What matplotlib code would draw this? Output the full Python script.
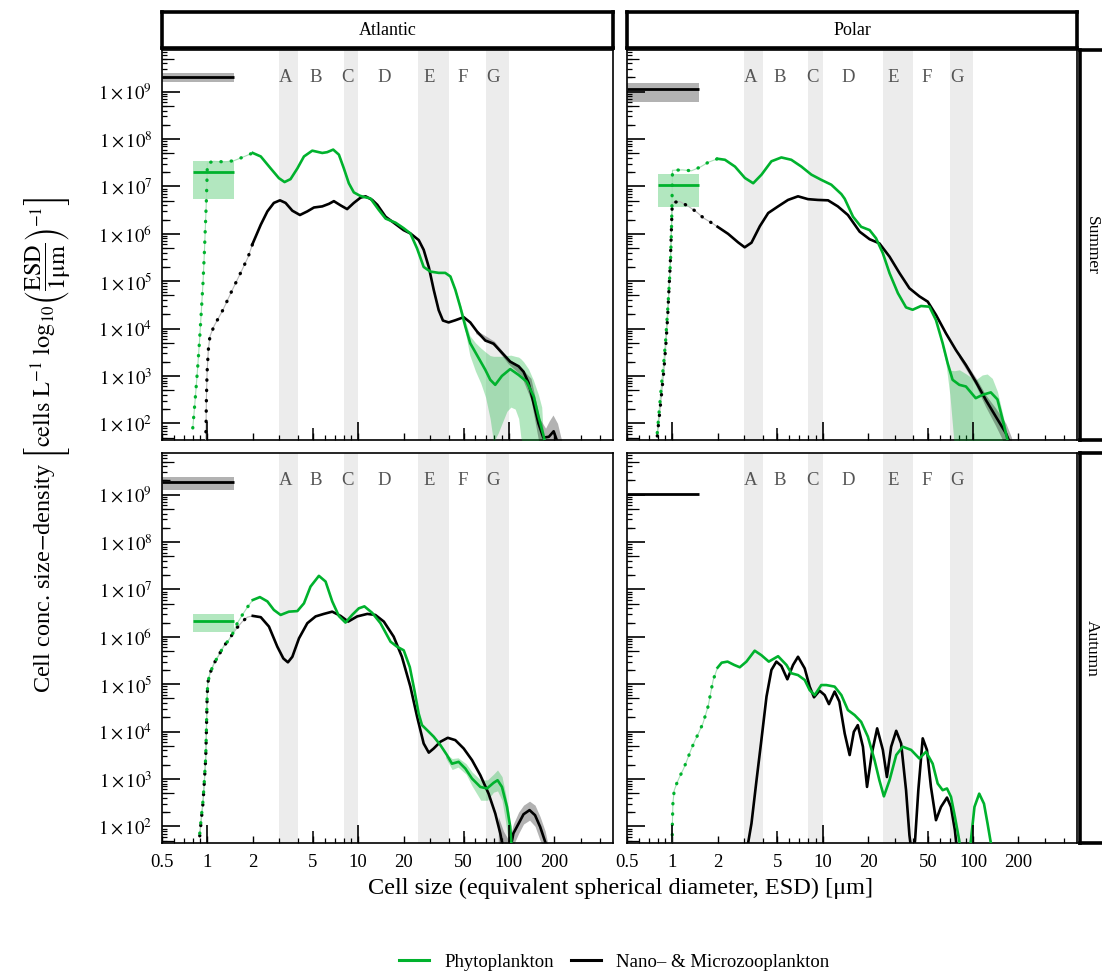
import matplotlib
matplotlib.use("Agg")
import matplotlib.pyplot as plt
import numpy as np
from matplotlib.lines import Line2D
from matplotlib.ticker import FixedLocator, FuncFormatter, LogLocator, NullFormatter

plt.rcParams["font.family"] = ["Liberation Serif", "DejaVu Serif"]
plt.rcParams["mathtext.fontset"] = "stix"

GREEN = "#00b22d"
SHADE = "#ececec"
LETTER_GREY = "#555555"

W, H = 1102, 971

# size classes shaded in every panel
class_bands = [(3, 4), (8, 10), (25, 40), (70, 100)]
class_letters = ["A", "B", "C", "D", "E", "F", "G"]
class_letter_x = [3.3, 5.2, 8.5, 14.8, 29.5, 49, 78]

# picoplankton bulk values drawn as short horizontal bars (value, low, high)
pico_zoo_x = [0.5, 1.5]
pico_phyto_x = [0.8, 1.5]
atl_sum_pico_zoo = [2.07e9, 1.63e9, 2.45e9]
atl_sum_pico_phyto = [2.05e7, 5.4e6, 3.5e7]
pol_sum_pico_zoo = [1.12e9, 6.0e8, 1.55e9]
pol_sum_pico_phyto = [1.09e7, 3.6e6, 1.83e7]
atl_aut_pico_zoo = [1.85e9, 1.28e9, 2.37e9]
atl_aut_pico_phyto = [2.17e6, 1.29e6, 3.05e6]
pol_aut_pico_zoo = [1.03e9, 1.03e9, 1.03e9]

# ---- Atlantic, summer ----
atl_sum_phyto_x = [0.80, 0.83, 0.86, 0.885, 0.91, 0.935, 0.955, 0.97, 0.985, 0.995, 1.0, 1.1, 1.3, 1.5, 1.7,
                   2.0, 2.26, 2.63, 2.98, 3.25, 3.56, 3.95, 4.37, 4.96, 5.78, 6.23, 6.83, 7.45, 8.04, 8.67,
                   9.36, 10.25, 10.9, 12.06, 13.7, 15.2, 17.7, 20.0, 22.2, 24.6, 27.2, 30.1, 34.2, 37.8,
                   40.9, 44.1, 47.5, 51.4, 55.4, 61.4, 69.7, 75.2, 81.1, 89.8, 102, 116, 131, 146, 157,
                   169, 180]
atl_sum_phyto_y = [80, 320, 1.35e3, 5.0e3, 2.1e4, 9.1e4, 4.0e5, 1.45e6, 5.2e6, 1.6e7, 3.1e7, 3.4e7, 3.3e7,
                   3.5e7, 4.1e7,
                   5.1e7, 4.3e7, 2.4e7, 1.5e7, 1.24e7, 1.43e7, 2.4e7, 4.3e7, 5.7e7, 5.1e7, 5.3e7, 6.0e7,
                   4.7e7, 2.4e7, 1.17e7, 7.5e6, 6.4e6, 6.0e6, 5.6e6, 3.2e6, 2.1e6, 1.72e6, 1.32e6, 1.02e6,
                   4.9e5, 2.0e5, 1.6e5, 1.5e5, 1.5e5, 1.26e5, 6.6e4, 2.9e4, 1.1e4, 4.9e3, 2.75e3, 1.35e3,
                   830, 650, 1.0e3, 1.4e3, 1.05e3, 760, 370, 140, 58, 25]
atl_sum_zoo_x = [0.975, 0.98, 0.985, 0.995, 1.015, 1.04, 1.11, 1.27, 1.44, 1.64, 1.86,
                 2.0, 2.26, 2.50, 2.76, 3.03, 3.30, 3.66, 4.11, 4.60, 5.09, 5.78, 6.40, 6.90, 7.64, 8.45,
                 9.36, 10.36, 11.2, 12.4, 13.4, 15.2, 17.2, 20.0, 22.2, 25.2, 27.2, 29.4, 31.7, 34.2, 36.5,
                 39.8, 44.1, 50.1, 55.4, 61.4, 69.7, 79.1, 89.8, 102, 116, 125, 135, 146, 157, 169, 184,
                 198, 213]
atl_sum_zoo_y = [40, 93, 320, 1.15e3, 3.6e3, 6.9e3, 1.15e4, 2.5e4, 5.9e4, 1.38e5, 3.2e5,
                 6.3e5, 1.56e6, 2.98e6, 4.5e6, 5.1e6, 4.5e6, 3.08e6, 2.5e6, 2.98e6, 3.6e6, 3.8e6, 4.3e6,
                 4.9e6, 4.0e6, 3.33e6, 4.5e6, 5.8e6, 6.2e6, 5.2e6, 4.1e6, 2.3e6, 1.72e6, 1.2e6, 1.02e6,
                 7.4e5, 4.6e5, 2.0e5, 6.6e4, 2.45e4, 1.48e4, 1.35e4, 1.5e4, 1.74e4, 1.35e4, 8.7e3, 5.6e3,
                 4.8e3, 3.1e3, 2.0e3, 1.6e3, 1.23e3, 710, 260, 100, 50, 52, 68, 35]
atl_sum_phyto_band_x = [44, 50, 55, 60, 65, 70, 75, 79, 85, 90, 97, 103, 110, 116, 120, 125, 135, 145, 157,
                        165, 170]
atl_sum_phyto_band_lo = [6.0e4, 1.32e4, 2.75e3, 1.26e3, 710, 355, 126, 40, 63, 100, 180, 220, 200, 126,
                         50, 32, 32, 32, 32, 32, 32]
atl_sum_phyto_band_hi = [7.2e4, 2.0e4, 7.1e3, 5.0e3, 3.9e3, 3.2e3, 2.7e3, 2.6e3, 2.6e3, 2.6e3, 2.7e3,
                         2.75e3, 2.6e3, 2.5e3, 2.3e3, 2.0e3, 1.4e3, 830, 400, 220, 40]
atl_sum_zoo_band_x = [60, 80, 100, 120, 140, 160, 175, 185, 196, 210, 225]
atl_sum_zoo_band_lo = [7.9e3, 4.3e3, 1.74e3, 1.05e3, 316, 32, 32, 32, 32, 32, 32]
atl_sum_zoo_band_hi = [9.5e3, 5.4e3, 2.3e3, 1.5e3, 890, 126, 79, 112, 150, 100, 40]

# ---- Polar, summer ----
pol_sum_phyto_x = [0.795, 0.82, 0.85, 0.877, 0.904, 0.932, 0.956, 0.976, 0.99, 0.997, 1.003, 1.015, 1.17,
                   1.34, 1.535, 1.735,
                   2.0, 2.24, 2.61, 3.04, 3.45, 3.92, 4.56, 5.31, 6.18, 7.21, 8.40, 9.78, 11.4, 13.3, 14.0,
                   15.9, 18.0, 20.5, 22.6, 25.1, 27.8, 31.6, 35.8, 39.6, 45.0, 51.2, 56.6, 62.7, 67.7, 73.0,
                   80.9, 89.5, 104, 115.5, 131, 145, 157, 169, 180]
pol_sum_phyto_y = [63, 195, 710, 1.86e3, 5.9e3, 2.5e4, 9.1e4, 3.3e5, 1.7e6, 6.2e6, 2.2e7, 2.2e7, 2.24e7,
                   2.14e7, 2.57e7, 3.24e7,
                   3.85e7, 3.66e7, 2.63e7, 1.51e7, 1.17e7, 1.78e7, 3.4e7, 4.1e7, 3.66e7, 2.63e7, 1.78e7,
                   1.38e7, 1.09e7, 6.9e6, 5.5e6, 2.3e6, 1.41e6, 1.2e6, 8.1e5, 3.9e5, 1.48e5, 5.6e4, 2.8e4,
                   2.5e4, 3.0e4, 2.9e4, 1.51e4, 4.9e3, 1.86e3, 830, 650, 600, 340, 400, 450, 320, 120, 45, 20]
pol_sum_zoo_x = [0.795, 0.82, 0.85, 0.88, 0.908, 0.932, 0.95, 0.97, 0.985, 1.0, 1.125, 1.28, 1.44, 1.62,
                 1.83,
                 2.0, 2.35, 2.74, 3.03, 3.36, 3.82, 4.34, 5.05, 5.88, 6.85, 7.98, 9.29, 10.85, 12.6, 14.7,
                 17.6, 20.5, 23.8, 27.8, 32.4, 37.7, 43.9, 49.9, 56.6, 66, 76.9, 89.5, 104, 121.5, 141.6,
                 165, 180]
pol_sum_zoo_y = [54, 141, 440, 1.35e3, 5.0e3, 1.82e4, 6.6e4, 2.4e5, 1.05e6, 4.6e6, 4.8e6, 3.8e6, 2.95e6,
                 2.14e6, 1.7e6,
                 1.41e6, 1.0e6, 6.6e5, 5.2e5, 6.5e5, 1.45e6, 2.75e6, 3.8e6, 5.2e6, 6.2e6, 5.4e6, 5.2e6,
                 5.1e6, 3.8e6, 2.5e6, 1.11e6, 7.7e5, 6.3e5, 3.3e5, 1.48e5, 7.1e4, 4.8e4, 3.7e4, 1.95e4,
                 7.9e3, 3.5e3, 1.7e3, 760, 310, 138, 62, 32]
pol_sum_phyto_band_x = [62, 66, 70, 75, 81, 90, 99, 104, 115, 124, 134, 145, 157, 165, 172]
pol_sum_phyto_band_lo = [4.2e3, 1.8e3, 400, 32, 32, 32, 32, 32, 32, 32, 32, 32, 32, 32, 32]
pol_sum_phyto_band_hi = [5.6e3, 2.8e3, 1.32e3, 1.29e3, 1.35e3, 1.1e3, 890, 830, 1.05e3, 1.1e3, 890, 470,
                         160, 79, 32]
pol_sum_zoo_band_x = [80, 104, 121, 141, 165, 180]
pol_sum_zoo_band_lo = [2.5e3, 630, 224, 89, 32, 32]
pol_sum_zoo_band_hi = [3.2e3, 930, 400, 210, 100, 50]

# ---- Atlantic, autumn ----
atl_aut_phyto_x = [0.89, 0.912, 0.936, 0.955, 0.975, 0.985, 0.995, 1.005, 1.04, 1.107, 1.195, 1.29, 1.377,
                   1.464, 1.58, 1.705, 1.84,
                   2.0, 2.23, 2.5, 2.76, 3.06, 3.47, 3.95, 4.37, 4.83, 5.49, 6.08, 6.73, 7.45, 8.24, 9.12,
                   10.1, 11.0, 12.4, 14.06, 16.4, 18.1, 20.05, 22.0, 23.6, 25.2, 26.5, 28.6, 31.7, 35.1,
                   38.8, 41.9, 46.4, 51.4, 56.9, 64.6, 71.5, 79.1, 84.1, 89.9, 97, 102, 104.5]
atl_aut_phyto_y = [71, 160, 355, 930, 2.95e3, 1.07e4, 4.7e4, 1.05e5, 1.7e5, 2.75e5, 4.2e5, 6.5e5, 8.3e5,
                   1.13e6, 1.95e6, 2.9e6, 4.2e6,
                   6.0e6, 6.9e6, 5.6e6, 3.7e6, 2.9e6, 3.4e6, 3.5e6, 5.1e6, 1.15e7, 1.94e7, 1.47e7, 5.6e6,
                   2.75e6, 2.0e6, 2.9e6, 4.0e6, 4.4e6, 3.2e6, 1.94e6, 7.9e5, 6.2e5, 5.2e5, 2.3e5, 7.5e4,
                   2.4e4, 1.37e4, 1.08e4, 7.8e3, 5.2e3, 3.2e3, 2.1e3, 2.3e3, 1.66e3, 1.02e3, 680, 630, 830,
                   940, 680, 260, 98, 32]
atl_aut_zoo_x = [0.89, 0.912, 0.936, 0.955, 0.975, 0.985, 0.995, 1.005, 1.04, 1.107, 1.195, 1.29, 1.377,
                 1.464, 1.58, 1.705, 1.84,
                 2.0, 2.26, 2.56, 2.91, 3.19, 3.42, 3.66, 4.05, 4.60, 5.22, 5.92, 6.73, 7.64, 8.59, 9.85,
                 11.5, 13.0, 14.8, 17.2, 19.5, 22.2, 24.6, 27.2, 29.4, 31.7, 35.1, 39.3, 44.1, 50.1, 56.9,
                 64.6, 73.3, 81.2, 87.6, 92, 97, 102, 107, 116, 125, 137, 149, 161, 174, 182]
atl_aut_zoo_y = [63, 141, 320, 890, 2.8e3, 1.0e4, 4.5e4, 1.05e5, 1.7e5, 2.75e5, 4.2e5, 6.5e5, 8.3e5,
                 1.13e6, 1.58e6, 2.1e6, 2.6e6,
                 2.77e6, 2.6e6, 1.65e6, 6.2e5, 3.5e5, 2.9e5, 3.8e5, 9.3e5, 1.94e6, 2.7e6, 3.05e6, 3.4e6,
                 2.77e6, 2.1e6, 2.7e6, 3.05e6, 2.9e6, 2.1e6, 1.01e6, 3.8e5, 8.9e4, 2.06e4, 5.6e3, 3.6e3,
                 4.4e3, 6.1e3, 7.4e3, 6.6e3, 4.4e3, 2.5e3, 1.2e3, 490, 186, 71, 32, 16, 32, 71, 115, 180,
                 220, 172, 98, 47, 25]
atl_aut_phyto_band_x = [38, 42, 46, 52, 57, 65, 72, 79, 84, 90, 95, 100]
atl_aut_phyto_band_lo = [2.8e3, 1.58e3, 1.78e3, 1.26e3, 710, 355, 355, 525, 560, 355, 126, 40]
atl_aut_phyto_band_hi = [3.5e3, 2.7e3, 2.8e3, 2.1e3, 1.4e3, 955, 955, 1.26e3, 1.55e3, 1.12e3, 490, 200]
atl_aut_zoo_band_x = [85, 92, 100, 107, 116, 125, 137, 149, 161, 174, 182]
atl_aut_zoo_band_lo = [32, 32, 32, 40, 71, 112, 135, 100, 50, 32, 32]
atl_aut_zoo_band_hi = [160, 79, 50, 112, 200, 280, 340, 280, 160, 79, 40]

# ---- Polar, autumn ----
pol_aut_phyto_x = [0.998, 1.002, 1.01, 1.03, 1.07, 1.11, 1.19, 1.26, 1.33, 1.41, 1.50, 1.60, 1.73, 1.87,
                   2.0, 2.13, 2.33, 2.58, 2.81, 3.11, 3.53, 3.91, 4.38, 5.05, 5.74, 6.19, 6.85, 7.59, 8.19,
                   8.84, 9.78, 10.56, 12.0, 13.3, 14.7, 16.3, 18.0, 19.96, 22.1, 23.8, 25.5, 27.8, 30.8,
                   34.0, 38.7, 43.9, 48.6, 53.8, 58.1, 62.7, 67.0, 71.2, 75.6, 80.0, 84, 92, 96.6, 102,
                   109.7, 118, 124.6, 131]
pol_aut_phyto_y = [40, 126, 316, 575, 800, 1.05e3, 1.66e3, 2.6e3, 4.1e3, 6.3e3, 9.5e3, 1.5e4, 3.4e4, 1.23e5,
                   2.24e5, 2.85e5, 3.0e5, 2.55e5, 2.28e5, 3.0e5, 5.1e5, 4.1e5, 3.0e5, 3.9e5, 2.55e5, 1.7e5,
                   1.56e5, 1.23e5, 7.5e4, 5.9e4, 9.6e4, 9.6e4, 8.9e4, 5.9e4, 2.85e4, 2.23e4, 1.61e4, 7.8e3,
                   2.5e3, 940, 430, 940, 3.2e3, 4.8e3, 4.1e3, 2.7e3, 3.75e3, 2.1e3, 800, 580, 630, 420, 160,
                   60, 20, 16, 51, 257, 490, 300, 115, 45]
pol_aut_zoo_x = [3.1, 3.19, 3.36, 3.63, 3.91, 4.23, 4.56, 4.92, 5.31, 5.82, 6.35, 6.85, 7.59, 8.19, 8.75,
                 9.53, 10.3, 11.0, 12.0, 12.9, 14.0, 15.1, 16.1, 17.1, 18.5, 19.7, 21.2, 23.0, 25.1, 26.7,
                 28.5, 30.8, 33.2, 35.8, 37.7, 39.5, 41.1, 43.2, 46.2, 49.3, 52.4, 56.6, 61.1, 67.0, 71.2,
                 75.6, 78]
pol_aut_zoo_y = [16, 44, 115, 940, 6.6e3, 5.5e4, 2.0e5, 3.0e5, 2.43e5, 1.27e5, 2.55e5, 3.8e5, 2.16e5,
                 8.9e4, 5.3e4, 7.3e4, 5.9e4, 3.8e4, 7.0e4, 4.3e4, 9.1e3, 3.2e3, 9.9e3, 1.37e4, 4.8e3, 680,
                 3.45e3, 1.17e4, 4.1e3, 1.1e3, 4.8e3, 1.04e4, 5.6e3, 580, 65, 20, 51, 580, 7.2e3, 4.1e3,
                 680, 135, 257, 405, 257, 83, 32]

x_tick_vals = [0.5, 1, 2, 5, 10, 20, 50, 100, 200]
XLIM = (0.5, 490)
YLIM = (44.5, 7.6e9)


def px_axes(fig, x0, y0, x1, y1, **kw):
    return fig.add_axes([x0 / W, 1 - y1 / H, (x1 - x0) / W, (y1 - y0) / H], **kw)


def tick_marks(ax, axis, vals, length_px, lw):
    # extra tick marks of custom length, drawn inward from the spine
    bb = ax.get_position()
    if axis == "x":
        frac = length_px / (bb.height * H)
        for v in vals:
            ax.plot([v, v], [0, frac], transform=ax.get_xaxis_transform(), color="black",
                    lw=lw, clip_on=False, zorder=6, solid_capstyle="butt")
    else:
        frac = length_px / (bb.width * W)
        for v in vals:
            ax.plot([0, frac], [v, v], transform=ax.get_yaxis_transform(), color="black",
                    lw=lw, clip_on=False, zorder=6, solid_capstyle="butt")


def style_axes(ax, xlabels, ylabels):
    ax.set_xscale("log")
    ax.set_yscale("log")
    ax.set_xlim(*XLIM)
    ax.set_ylim(*YLIM)
    ax.xaxis.set_major_locator(FixedLocator(x_tick_vals))
    ax.xaxis.set_minor_locator(LogLocator(base=10, subs=[3, 4, 6, 7, 8, 9], numticks=20))
    ax.xaxis.set_minor_formatter(NullFormatter())
    if xlabels:
        ax.xaxis.set_major_formatter(FuncFormatter(lambda v, _: f"{v:g}"))
    else:
        ax.xaxis.set_major_formatter(NullFormatter())
    ax.yaxis.set_major_locator(LogLocator(base=10, numticks=20))
    ax.yaxis.set_minor_locator(LogLocator(base=10, subs=np.arange(2, 10), numticks=20))
    ax.yaxis.set_minor_formatter(NullFormatter())
    if ylabels:
        ax.yaxis.set_major_formatter(
            FuncFormatter(lambda v, _: r"$1\times10^{%d}$" % round(np.log10(v))))
    else:
        ax.yaxis.set_major_formatter(NullFormatter())
    ax.tick_params(axis="x", which="major", direction="in", length=5, width=1.0,
                   labelsize=13.5, pad=8, top=False)
    ax.tick_params(axis="x", which="minor", direction="in", length=3.8, width=0.9, top=False)
    ax.tick_params(axis="y", which="major", direction="in", length=13, width=1.2,
                   labelsize=13.5, pad=7, right=False)
    ax.tick_params(axis="y", which="minor", direction="in", length=3.8, width=0.9, right=False)
    for s in ax.spines.values():
        s.set_linewidth(1.2)
    tick_marks(ax, "x", [1, 10, 100], 18, 1.2)
    tick_marks(ax, "x", [5, 50], 12, 1.1)
    decades = [10.0 ** k for k in range(1, 10)]
    tick_marks(ax, "y", [5 * d for d in decades if YLIM[0] < 5 * d < YLIM[1]], 12, 0.9)
    tick_marks(ax, "y", [2 * d for d in decades if YLIM[0] < 2 * d < YLIM[1]], 8, 0.9)


def draw_curve(ax, x, y, color, faint):
    x = np.asarray(x, float)
    y = np.asarray(y, float)
    dot = x <= 2.0
    sol = x >= 2.0
    if dot.sum() > 1:
        ax.plot(x[dot], y[dot], color=faint, lw=0.8, zorder=4)
        ax.plot(x[dot], y[dot], color=color, lw=2.4, ls=(0, (0.1, 3.0)),
                dash_capstyle="round", zorder=5)
    ax.plot(x[sol], y[sol], color=color, lw=1.9, zorder=5, solid_joinstyle="round")


def draw_band(ax, x, lo, hi, color):
    ax.fill_between(x, lo, hi, color=color, alpha=0.3, lw=0, zorder=3)


def draw_pico(ax, xs, vals, color, show_band=True):
    v, lo, hi = vals
    if show_band and hi > lo:
        ax.fill_between(xs, [lo, lo], [hi, hi], color=color, alpha=0.3, lw=0, zorder=3)
    ax.plot(xs, [v, v], color=color, lw=2.0, zorder=5, solid_capstyle="butt")


def panel(ax, phyto, zoo, phyto_bands, zoo_bands, pico_zoo, pico_phyto, xlabels, ylabels):
    style_axes(ax, xlabels, ylabels)
    for lo, hi in class_bands:
        ax.axvspan(lo, hi, color=SHADE, lw=0, zorder=0)
    for lbl, xv in zip(class_letters, class_letter_x):
        ax.text(xv, 0.929, lbl, transform=ax.get_xaxis_transform(), ha="center", va="center",
                fontsize=13.5, color=LETTER_GREY, zorder=2)
    for b in phyto_bands:
        draw_band(ax, *b, GREEN)
    for b in zoo_bands:
        draw_band(ax, *b, "black")
    draw_pico(ax, pico_zoo_x, pico_zoo, "black")
    if pico_phyto is not None:
        draw_pico(ax, pico_phyto_x, pico_phyto, GREEN)
    draw_curve(ax, *zoo, "black", "#b8b8b8")
    draw_curve(ax, *phyto, GREEN, "#a6e0b5")


def strip(fig, x0, y0, x1, y1, text, rotation=0, size=13, tx=0.5):
    s = px_axes(fig, x0, y0, x1, y1)
    s.set_xticks([])
    s.set_yticks([])
    for sp in s.spines.values():
        sp.set_linewidth(2.6)
    s.text(tx, 0.5, text, ha="center", va="center", rotation=rotation,
           fontsize=size, transform=s.transAxes)
    return s


fig = plt.figure(figsize=(W / 100, H / 100), dpi=100)

cols = [(162, 613), (627, 1077)]
rows = [(50, 440), (453, 843)]

ax_as = px_axes(fig, cols[0][0], rows[0][0], cols[0][1], rows[0][1])
panel(ax_as, (atl_sum_phyto_x, atl_sum_phyto_y), (atl_sum_zoo_x, atl_sum_zoo_y),
      [(atl_sum_phyto_band_x, atl_sum_phyto_band_lo, atl_sum_phyto_band_hi)],
      [(atl_sum_zoo_band_x, atl_sum_zoo_band_lo, atl_sum_zoo_band_hi)],
      atl_sum_pico_zoo, atl_sum_pico_phyto, False, True)

ax_ps = px_axes(fig, cols[1][0], rows[0][0], cols[1][1], rows[0][1])
panel(ax_ps, (pol_sum_phyto_x, pol_sum_phyto_y), (pol_sum_zoo_x, pol_sum_zoo_y),
      [(pol_sum_phyto_band_x, pol_sum_phyto_band_lo, pol_sum_phyto_band_hi)],
      [(pol_sum_zoo_band_x, pol_sum_zoo_band_lo, pol_sum_zoo_band_hi)],
      pol_sum_pico_zoo, pol_sum_pico_phyto, False, False)

ax_aa = px_axes(fig, cols[0][0], rows[1][0], cols[0][1], rows[1][1])
panel(ax_aa, (atl_aut_phyto_x, atl_aut_phyto_y), (atl_aut_zoo_x, atl_aut_zoo_y),
      [(atl_aut_phyto_band_x, atl_aut_phyto_band_lo, atl_aut_phyto_band_hi)],
      [(atl_aut_zoo_band_x, atl_aut_zoo_band_lo, atl_aut_zoo_band_hi)],
      atl_aut_pico_zoo, atl_aut_pico_phyto, True, True)

ax_pa = px_axes(fig, cols[1][0], rows[1][0], cols[1][1], rows[1][1])
panel(ax_pa, (pol_aut_phyto_x, pol_aut_phyto_y), (pol_aut_zoo_x, pol_aut_zoo_y),
      [], [], pol_aut_pico_zoo, None, True, False)

strip(fig, 162, 12, 613, 48, "Atlantic")
strip(fig, 627, 12, 1077, 48, "Polar")
# right-hand strips run off the canvas edge; keep the labels inside it
strip(fig, 1080, 50, 1116, 440, "Summer", rotation=270, size=12.5, tx=0.33)
strip(fig, 1080, 453, 1116, 843, "Autumn", rotation=270, size=12.5, tx=0.33)

fig.text(620 / W, 1 - 888 / H, "Cell size (equivalent spherical diameter, ESD) [μm]",
         ha="center", va="center", fontsize=17.5)
fig.text(47 / W, 1 - 445 / H,
         r"Cell conc. size$-$density $\left[\mathrm{cells\ L^{-1}\ log_{10}}"
         r"\left(\dfrac{\mathrm{ESD}}{\mathrm{1μm}}\right)^{-1}\right]$",
         ha="center", va="center", rotation=90, fontsize=17.5)

handles = [Line2D([], [], color=GREEN, lw=2.2), Line2D([], [], color="black", lw=2.2)]
fig.legend(handles, ["Phytoplankton", "Nano– & Microzooplankton"], loc="center",
           bbox_to_anchor=(614 / W, 1 - 962 / H), ncol=2, frameon=False, fontsize=13.5,
           handlelength=1.6, handletextpad=0.8, columnspacing=0.9)

fig.savefig("out.png", dpi=100)
